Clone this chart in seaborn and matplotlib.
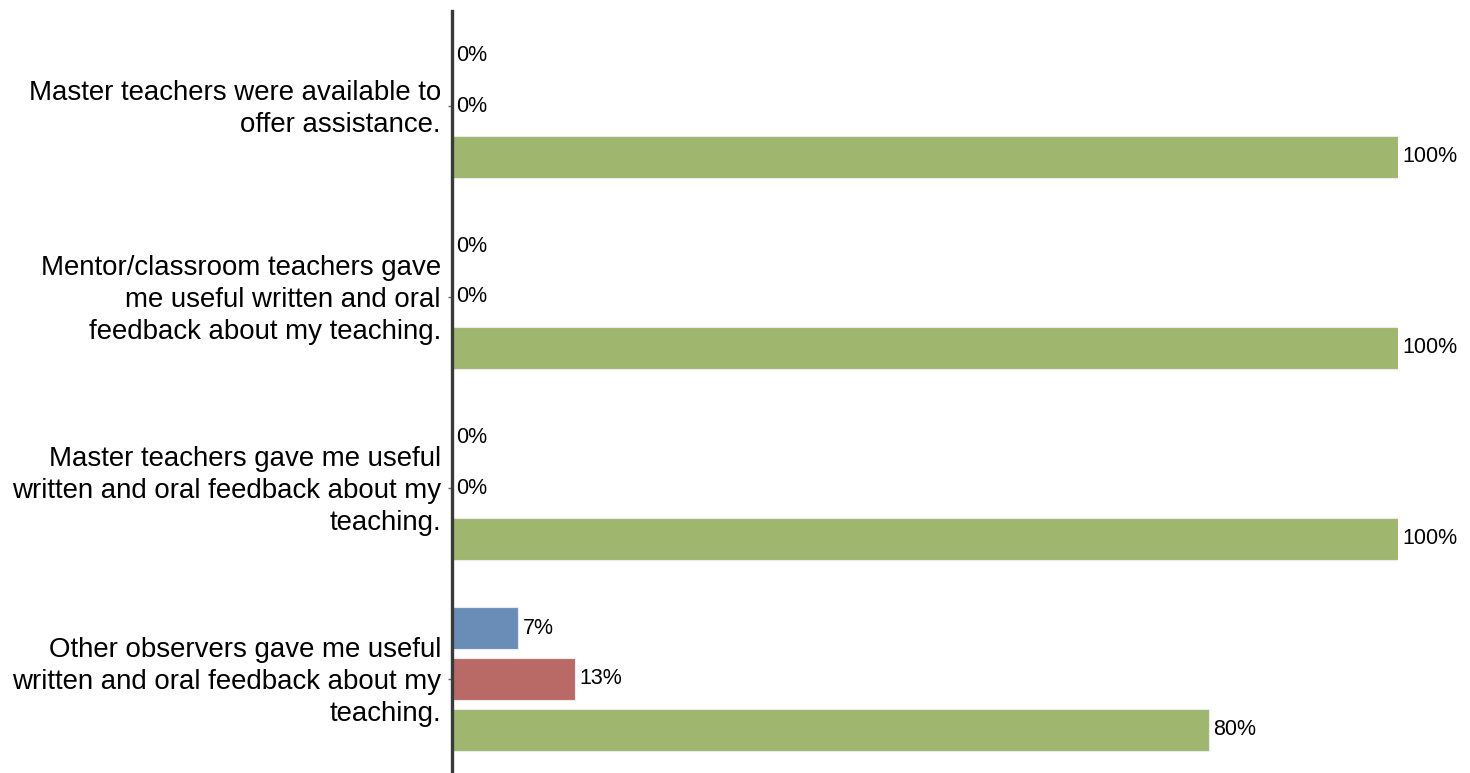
import matplotlib
matplotlib.use("Agg")
import matplotlib.pyplot as plt
import matplotlib.transforms as mtransforms
import seaborn as sns
import pandas as pd

# Survey statements (one bar group per statement)
statements = [
    "Master teachers were available to\noffer assistance.",
    "Mentor/classroom teachers gave\nme useful written and oral\nfeedback about my teaching.",
    "Master teachers gave me useful\nwritten and oral feedback about my\nteaching.",
    "Other observers gave me useful\nwritten and oral feedback about my\nteaching.",
]
responses = ["Disagree", "Neutral", "Agree"]

# Percent of respondents per response, in statement order
disagree = [0, 0, 0, 7]
neutral = [0, 0, 0, 13]
agree = [100, 100, 100, 80]

colors = ["#6a8db8", "#b96a66", "#9fb66f"]

rows = []
for i, s in enumerate(statements):
    for r, vals in zip(responses, [disagree, neutral, agree]):
        rows.append({"statement": s, "response": r, "pct": vals[i]})
df = pd.DataFrame(rows)

sns.set_theme(style="white")
plt.rcParams["font.family"] = ["Liberation Sans", "DejaVu Sans"]

fig = plt.figure(figsize=(14.7, 7.73), dpi=100)
W, H = 1470, 773
ax = fig.add_axes([452 / W, -1.5 / H, 946 / W, (773 - 10.5 + 1.5) / H])

sns.barplot(
    data=df, y="statement", x="pct", hue="response",
    hue_order=responses, palette=colors, saturation=1, orient="h",
    width=0.8, gap=0.18, ax=ax, legend=False,
    edgecolor="#e8ecef", linewidth=0.8,
)

for cont in ax.containers:
    ax.bar_label(cont, fmt="%g%%", padding=3, fontsize=15.5, color="#000000")

ax.set_xlim(0, 100)
ax.set_ylim(3.5, -0.5)
ax.set_xlabel("")
ax.set_ylabel("")
ax.set_xticks([])
ax.tick_params(axis="y", left=True, length=3, width=1, color="#666666",
               pad=5, labelsize=19.9, labelcolor="#000000")
lift = mtransforms.ScaledTranslation(0, 3 / 100, fig.dpi_scale_trans)
for lbl in ax.get_yticklabels():
    lbl.set_linespacing(1.3)
    lbl.set_transform(lbl.get_transform() + lift)

for side in ["top", "right", "bottom"]:
    ax.spines[side].set_visible(False)
ax.spines["left"].set_color("#3a3a3a")
ax.spines["left"].set_linewidth(2.4)

fig.savefig("out.png", dpi=100)
